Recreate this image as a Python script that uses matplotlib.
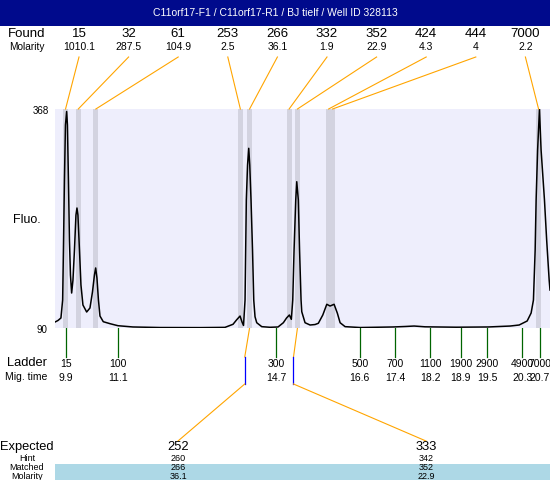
import matplotlib
matplotlib.use('Agg')
import matplotlib.pyplot as plt
from matplotlib.patches import Rectangle

plt.rcParams['font.family'] = ['Liberation Sans', 'DejaVu Sans']

# Datos del electroferograma
titulo = "C11orf17-F1 / C11orf17-R1 / BJ tielf / Well ID 328113"

found_size = ['15', '32', '61', '253', '266', '332', '352', '424', '444', '7000']
found_molarity = ['1010.1', '287.5', '104.9', '2.5', '36.1', '1.9', '22.9', '4.3', '4', '2.2']
found_time = [9.90, 10.19, 10.59, 13.88, 14.09, 14.99, 15.18, 15.89, 15.98, 20.67]

ladder_size = ['15', '100', '300', '500', '700', '1100', '1900', '2900', '4900', '7000']
ladder_time = [9.9, 11.1, 14.7, 16.6, 17.4, 18.2, 18.9, 19.5, 20.3, 20.7]

expected_size = ['252', '333']
expected_time = [13.98, 15.09]
hint_size = ['260', '342']
matched_size = ['266', '352']
matched_time = [14.09, 15.18]
matched_molarity = ['36.1', '22.9']

fluo_min, fluo_max = 90, 368
t_min, t_max = 9.66, 20.93

# Traza de fluorescencia (tiempo de migracion [s], fluorescencia)
traza_t = [9.66, 9.727, 9.795, 9.834, 9.852, 9.875, 9.898, 9.925, 9.943, 9.966,
           9.989, 10.012, 10.039, 10.069, 10.103, 10.137, 10.16, 10.182, 10.217, 10.251,
           10.296, 10.381, 10.456, 10.513, 10.558, 10.586, 10.615, 10.649, 10.684, 10.759,
           10.911, 11.094, 11.435, 12.05, 12.96, 13.53, 13.713, 13.793, 13.873, 13.918,
           13.952, 13.987, 14.016, 14.044, 14.071, 14.094, 14.123, 14.157, 14.185, 14.214,
           14.253, 14.367, 14.556, 14.738, 14.859, 14.932, 14.996, 15.041, 15.073, 15.103,
           15.141, 15.164, 15.2, 15.228, 15.262, 15.278, 15.353, 15.467, 15.581, 15.656,
           15.757, 15.848, 15.923, 16.014, 16.089, 16.151, 16.265, 16.607, 17.358, 17.631,
           17.836, 18.087, 18.793, 19.522, 20.023, 20.228, 20.41, 20.5, 20.553, 20.592,
           20.614, 20.648, 20.69, 20.727, 20.804, 20.854, 20.911, 20.93]
traza_f = [97.6, 99.5, 102.7, 125.5, 189.0, 277.9, 347.7, 364.8, 347.7, 277.9,
           201.7, 157.3, 134.4, 150.9, 189.0, 233.4, 242.3, 233.4, 189.0, 144.6,
           119.2, 110.3, 115.4, 135.7, 157.3, 166.2, 153.5, 125.5, 105.2, 98.0,
           95.5, 92.9, 91.3, 90.6, 90.5, 90.8, 94.7, 100.2, 105.2, 97.6,
           93.2, 125.5, 252.5, 296.9, 318.1, 296.9, 252.5, 189.0, 125.5, 104.3,
           96.7, 91.7, 90.9, 91.3, 96.7, 102.7, 106.5, 101.0, 125.5, 189.0,
           252.5, 275.7, 252.5, 189.0, 125.5, 110.7, 96.7, 93.8, 94.4, 96.0,
           106.5, 120.1, 117.9, 120.1, 108.7, 96.7, 91.7, 90.6, 91.3, 91.9,
           92.5, 91.5, 91.0, 91.3, 92.5, 93.8, 98.9, 109.0, 125.5, 189.0,
           252.5, 316.0, 367.6, 316.0, 252.5, 201.7, 150.9, 138.2]

naranja = '#ffa500'

fig = plt.figure(figsize=(5.5, 4.8), dpi=100)

# Eje principal del trazo (en pixeles: x 55-550, y 109-328)
ax = fig.add_axes([55 / 550, (480 - 328) / 480, 495 / 550, 219 / 480])
ax.set_facecolor('#eeeefc')
ax.set_xlim(t_min, t_max)
ax.set_ylim(fluo_min, fluo_max)
for s in ax.spines.values():
    s.set_visible(False)
ax.set_xticks([])
ax.set_yticks([])

for t in found_time:
    ax.axvspan(t - 0.057, t + 0.057, color='#d3d3e0', lw=0)
ax.plot(traza_t, traza_f, color='black', lw=1.1, clip_on=True)

# Capa superpuesta en coordenadas de pixel
ov = fig.add_axes([0, 0, 1, 1], zorder=-1)
ov.set_xlim(0, 550)
ov.set_ylim(480, 0)
ov.axis('off')
ov.patch.set_alpha(0)

top = fig.add_axes([0, 0, 1, 1], zorder=5)
top.set_xlim(0, 550)
top.set_ylim(480, 0)
top.axis('off')
top.patch.set_alpha(0)


def t2px(t):
    """Convierte tiempo de migracion a pixel x"""
    return 55 + (t - t_min) / (t_max - t_min) * 495


# Cabecera
ov.add_patch(Rectangle((0, 0), 550, 26, color='#000a8c', lw=0))
ov.text(275, 13, titulo, color='white', fontsize=7.5, ha='center', va='center')

ov.text(27, 34, 'Found', fontsize=9.5, ha='center', va='center')
ov.text(27, 47, 'Molarity', fontsize=7.3, ha='center', va='center')
for i, (sz, mol, t) in enumerate(zip(found_size, found_molarity, found_time)):
    x = 79 + 49.6 * i
    ov.text(x, 34, sz, fontsize=9.5, ha='center', va='center')
    ov.text(x, 47, mol, fontsize=7.5, ha='center', va='center')
    top.plot([x, t2px(t)], [57, 109], color=naranja, lw=0.8)

# Eje Y
ov.text(49, 111, str(fluo_max), fontsize=7, ha='right', va='center')
ov.text(47, 330, str(fluo_min), fontsize=7, ha='right', va='center')
ov.text(27, 220, 'Fluo.', fontsize=9, ha='center', va='center')

# Escalera
ov.text(27, 363, 'Ladder', fontsize=9.3, ha='center', va='center')
ov.text(26, 377, 'Mig. time', fontsize=7.5, ha='center', va='center')
for sz, t in zip(ladder_size, ladder_time):
    x = t2px(t)
    ov.plot([x, x], [328, 357], color='#006400', lw=0.9)
    ov.text(x, 364, sz, fontsize=7.5, ha='center', va='center')
    ov.text(x, 378, f"{t}", fontsize=7.5, ha='center', va='center')

# Esperados
exp_label_x = [178, 426]
for tm, te, lx in zip(matched_time, expected_time, exp_label_x):
    ov.plot([t2px(tm), t2px(te)], [328, 357], color=naranja, lw=0.8)
    ov.plot([t2px(te), t2px(te)], [357, 384], color='blue', lw=0.9)
    ov.plot([t2px(te), lx], [384, 441], color=naranja, lw=0.8)

ov.add_patch(Rectangle((55, 464), 495, 16, color='#add8e6', lw=0))
ov.text(27, 447, 'Expected', fontsize=9.3, ha='center', va='center')
ov.text(27, 458.5, 'Hint', fontsize=6.5, ha='center', va='center')
ov.text(27, 467.5, 'Matched', fontsize=6.5, ha='center', va='center')
ov.text(27, 476.3, 'Molarity', fontsize=6.5, ha='center', va='center')
for lx, e, h, m, mol in zip(exp_label_x, expected_size, hint_size, matched_size, matched_molarity):
    ov.text(lx, 447, e, fontsize=9.3, ha='center', va='center')
    ov.text(lx, 458.5, h, fontsize=6.5, ha='center', va='center')
    ov.text(lx, 467.5, m, fontsize=6.5, ha='center', va='center')
    ov.text(lx, 476.3, mol, fontsize=6.5, ha='center', va='center')

fig.savefig('out.png', dpi=100)
